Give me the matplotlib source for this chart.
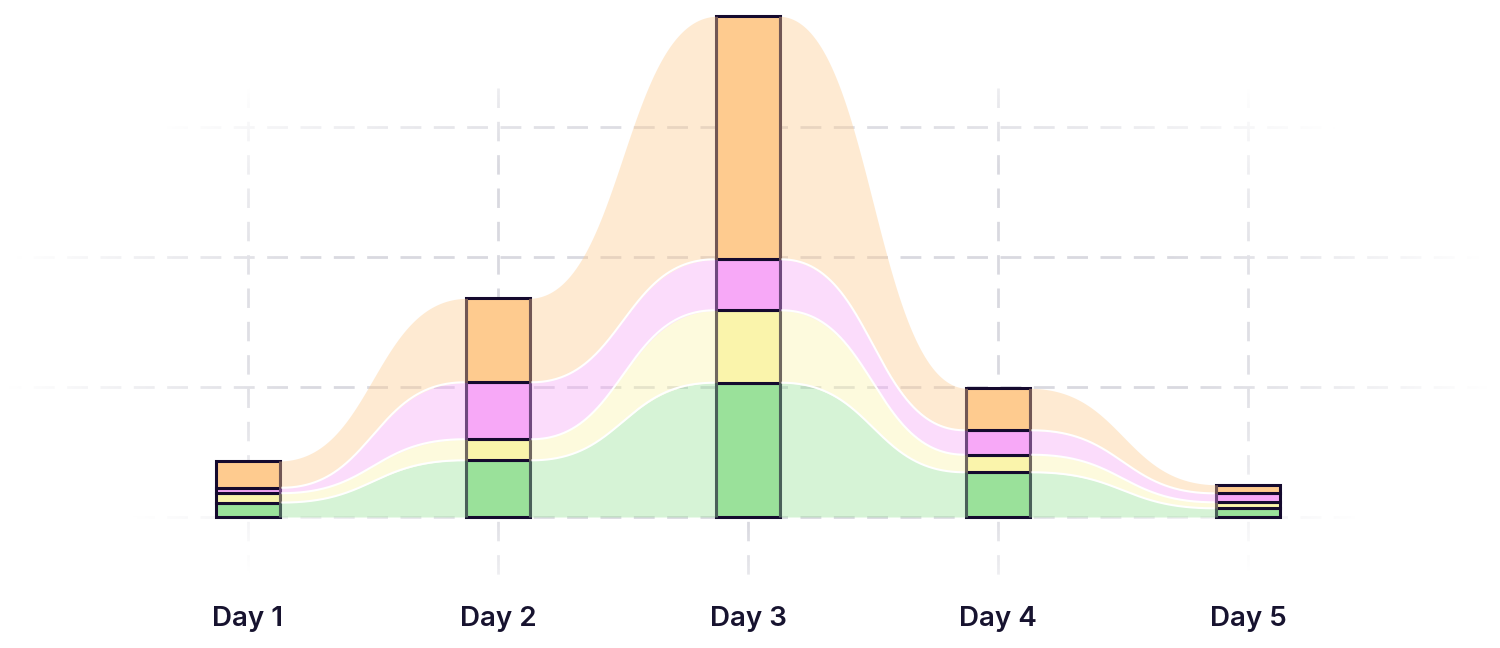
import numpy as np
import matplotlib
matplotlib.use("Agg")
import matplotlib.pyplot as plt

# data (bottom layer first)
days = ["Day 1", "Day 2", "Day 3", "Day 4", "Day 5"]
green = [1.11, 4.36, 10.33, 3.44, 0.67]
yellow = [0.72, 1.62, 5.57, 1.35, 0.46]
pink = [0.42, 4.38, 3.92, 1.88, 0.69]
orange = [2.06, 6.46, 18.70, 3.23, 0.66]

layers = [green, yellow, pink, orange]
colors = ["#9AE19A", "#FAF4AB", "#F7A8F7", "#FECB8F"]
edge = "#150A2E"
grid_y = [0, 10, 20, 30]

# pixel layout helpers (figure is 1500x648, axes fill it)
X0, DX = 248, 250      # px of first day, px per day
Y0, DY = 517, 13       # px of zero, px per unit


def bump(xa, xb, ya, yb, n=200):
    # cubic bezier with horizontal tangents at both ends (like d3 curveBumpX)
    t = np.linspace(0, 1, n)
    xm = (xa + xb) / 2
    bx = (1-t)**3 * xa + 3*(1-t)**2*t * xm + 3*(1-t)*t**2 * xm + t**3 * xb
    by = (1-t)**3 * ya + 3*(1-t)**2*t * ya + 3*(1-t)*t**2 * yb + t**3 * yb
    return bx, by


fig = plt.figure(figsize=(15, 6.48), dpi=100)
ax = fig.add_axes([0, 0, 1, 1])
xlim = ((0 - X0) / DX, (1500 - X0) / DX)
ylim = ((Y0 - 648) / DY, Y0 / DY)

x = np.arange(len(days))

# grid
grid_col = "#d9d9e0"
for gy in grid_y:
    ax.axhline(gy, color=grid_col, lw=2, ls=(0, (7.5, 4.5)), zorder=0)
for xi in x:
    ax.plot([xi, xi], [(Y0 - 88) / DY, (Y0 - 588) / DY], color=grid_col,
            lw=2, ls=(0, (7, 5)), zorder=0)

# radial white mask that fades the grid towards the edges
W, H = 750, 324
gx = np.linspace(0, 1500, W)
gyp = np.linspace(0, 648, H)
PX, PY = np.meshgrid(gx, gyp)
r = np.sqrt(((PX - 748) / 750) ** 2 + ((PY - 330) / 324) ** 2)
vis = np.clip((1 - r) / 0.4, 0, 1)
mask = np.ones((H, W, 4))
mask[..., 3] = 1 - vis
ax.imshow(mask, extent=[xlim[0], xlim[1], ylim[0], ylim[1]], origin="upper",
          aspect="auto", zorder=1, interpolation="bilinear")

# stacked bars
bw = 64 / DX
lw_data = 1.5 / DX
bottom = np.zeros(len(days))
for vals, c in zip(layers, colors):
    ax.bar(x, vals, bw, bottom=bottom, color=c, edgecolor=edge,
           linewidth=2.2, zorder=2)
    bottom = bottom + np.array(vals)

# flowing areas between bars
cum = np.vstack([np.zeros(len(days)), np.cumsum(np.array(layers), axis=0)])
for i in range(len(days) - 1):
    xa = x[i] + bw / 2 - lw_data
    xb = x[i + 1] - bw / 2 + lw_data
    curves = [bump(xa, xb, c[i], c[i + 1]) for c in cum]
    xs = curves[0][0]
    for k, col in enumerate(colors):
        ax.fill_between(xs, curves[k][1], curves[k + 1][1], color=col,
                        alpha=0.4, lw=0, zorder=3)
    for k in range(1, 4):
        xw, yw = bump(xa + 2 * lw_data, xb - 2 * lw_data, cum[k][i], cum[k][i + 1])
        ax.plot(xw, yw, color="white", lw=1.5, zorder=4, solid_capstyle="butt")

# day labels
for xi, d in zip(x, days):
    ax.text(xi, (Y0 - 626.5) / DY, d, ha="center", va="baseline",
            fontsize=20, fontfamily="Inter", fontweight="semibold",
            color="#17132F")

ax.set_xlim(*xlim)
ax.set_ylim(*ylim)
ax.axis("off")
fig.savefig("out.png", dpi=100, facecolor="white")
